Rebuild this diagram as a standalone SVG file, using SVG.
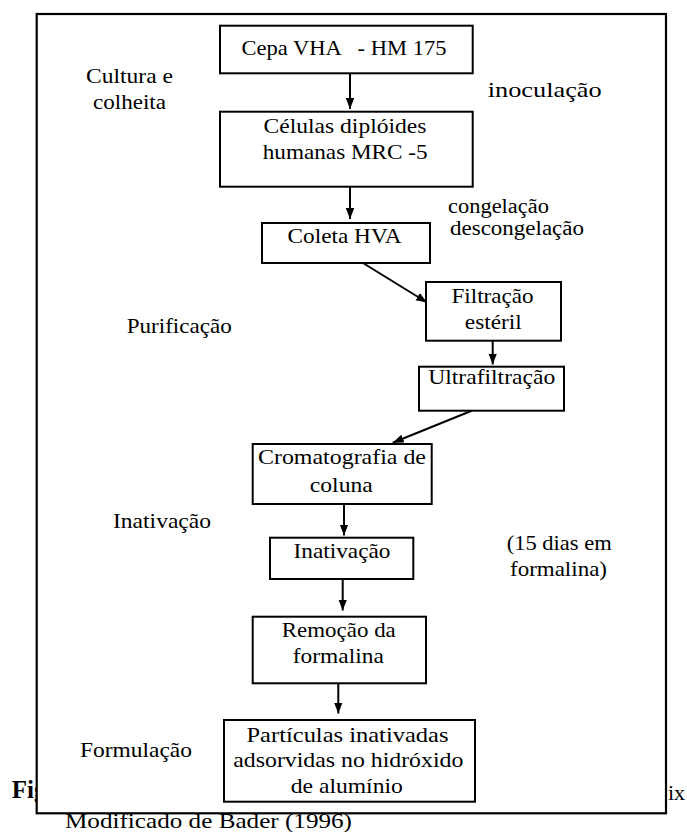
<svg xmlns="http://www.w3.org/2000/svg" width="687" height="832" viewBox="0 0 687 832" font-family="'Liberation Serif', 'Times New Roman', 'DejaVu Serif', serif">
<style>
text{font-family:"Liberation Serif","Times New Roman","DejaVu Serif",serif;font-size:22px;fill:#000}
.c{text-anchor:middle}
.s{font-size:20.5px}
.box{fill:#fff;stroke:#000;stroke-width:2}
.edge{stroke:#000;stroke-width:2;fill:none;marker-end:url(#ah)}
.cap{font-weight:bold;font-size:25px}
</style>
<defs>
<marker id="ah" markerUnits="userSpaceOnUse" markerWidth="12" markerHeight="9" refX="11" refY="4.25" orient="auto">
<path d="M0,0 L11,4.25 L0,8.5 z" fill="#000"/>
</marker>
</defs>
<g id="caption-behind">
<text class="cap" x="11.7" y="798.3">Fig</text>
<text x="668" y="800">ix</text>
</g>
<g id="frame">
<rect x="36.7" y="14" width="629.3" height="799.3" fill="#fff" stroke="#000" stroke-width="2.2"/>
</g>
<g id="side-labels">
<text class="c" x="129.5" y="83" textLength="87" lengthAdjust="spacingAndGlyphs">Cultura e</text>
<text class="c" x="129.5" y="109" textLength="73" lengthAdjust="spacingAndGlyphs">colheita</text>
<text x="487.7" y="96.7" textLength="114" lengthAdjust="spacingAndGlyphs">inoculação</text>
<text class="s" x="448" y="213" textLength="101" lengthAdjust="spacingAndGlyphs">congelação</text>
<text class="s" x="450" y="235" textLength="134" lengthAdjust="spacingAndGlyphs">descongelação</text>
<text x="126.7" y="333" textLength="105" lengthAdjust="spacingAndGlyphs">Purificação</text>
<text x="113" y="528" textLength="98" lengthAdjust="spacingAndGlyphs">Inativação</text>
<text x="506.7" y="550" textLength="105" lengthAdjust="spacingAndGlyphs">(15 dias em</text>
<text x="510" y="576" textLength="97" lengthAdjust="spacingAndGlyphs">formalina)</text>
<text x="80" y="756.7" textLength="112" lengthAdjust="spacingAndGlyphs">Formulação</text>
</g>
<g id="connectors">
<line class="edge" x1="350" y1="73.5" x2="350" y2="109"/>
<line class="edge" x1="350" y1="187" x2="350" y2="219"/>
<line class="edge" x1="363" y1="263" x2="427" y2="302.5"/>
<line class="edge" x1="492.7" y1="340.7" x2="492.7" y2="364.5"/>
<line class="edge" x1="471.7" y1="410.7" x2="392.7" y2="442.7"/>
<line class="edge" x1="344" y1="504" x2="344" y2="535.5"/>
<line class="edge" x1="342.7" y1="579" x2="342.7" y2="610.5"/>
<line class="edge" x1="338.3" y1="683.3" x2="338.3" y2="713.5"/>
</g>
<g id="n1">
<rect class="box" x="220" y="25.7" width="252.7" height="47.6"/>
<text class="c" x="344" y="55" xml:space="preserve" textLength="205" lengthAdjust="spacingAndGlyphs">Cepa VHA   - HM 175</text>
</g>
<g id="n2">
<rect class="box" x="220" y="111.7" width="252.7" height="75"/>
<text class="c" x="345" y="133" textLength="163" lengthAdjust="spacingAndGlyphs">Células diplóides</text>
<text class="c" x="345.2" y="159" textLength="165" lengthAdjust="spacingAndGlyphs">humanas MRC -5</text>
</g>
<g id="n3">
<rect class="box" x="262" y="223" width="168" height="40"/>
<text class="c" x="344.5" y="243" textLength="114" lengthAdjust="spacingAndGlyphs">Coleta HVA</text>
</g>
<g id="n4">
<rect class="box" x="426" y="282" width="135" height="58.7"/>
<text class="c" x="492.5" y="303" textLength="82" lengthAdjust="spacingAndGlyphs">Filtração</text>
<text class="c" x="493.3" y="329" textLength="57" lengthAdjust="spacingAndGlyphs">estéril</text>
</g>
<g id="n5">
<rect class="box" x="419" y="366.7" width="145" height="44"/>
<text class="c" x="491.7" y="384" textLength="127" lengthAdjust="spacingAndGlyphs">Ultrafiltração</text>
</g>
<g id="n6">
<rect class="box" x="252.7" y="444" width="179" height="60"/>
<text class="c" x="342" y="464" textLength="168" lengthAdjust="spacingAndGlyphs">Cromatografia de</text>
<text class="c" x="341.3" y="491.7" textLength="63" lengthAdjust="spacingAndGlyphs">coluna</text>
</g>
<g id="n7">
<rect class="box" x="270" y="537.7" width="143.3" height="41.3"/>
<text class="c" x="342" y="558.3" textLength="97" lengthAdjust="spacingAndGlyphs">Inativação</text>
</g>
<g id="n8">
<rect class="box" x="252.7" y="616.7" width="173.3" height="66.6"/>
<text class="c" x="338.8" y="637.3" textLength="114" lengthAdjust="spacingAndGlyphs">Remoção da</text>
<text class="c" x="338.3" y="662.7" textLength="91" lengthAdjust="spacingAndGlyphs">formalina</text>
</g>
<g id="n9">
<rect class="box" x="224" y="720" width="251" height="81.7"/>
<text class="c" x="347.5" y="741.7" textLength="202" lengthAdjust="spacingAndGlyphs">Partículas inativadas</text>
<text class="c" x="348.3" y="767.3" textLength="230" lengthAdjust="spacingAndGlyphs">adsorvidas no hidróxido</text>
<text class="c" x="346.8" y="793.3" textLength="112" lengthAdjust="spacingAndGlyphs">de alumínio</text>
</g>
<g id="source">
<text x="65" y="828.3" textLength="287" lengthAdjust="spacingAndGlyphs">Modificado de Bader (1996)</text>
</g>
</svg>
